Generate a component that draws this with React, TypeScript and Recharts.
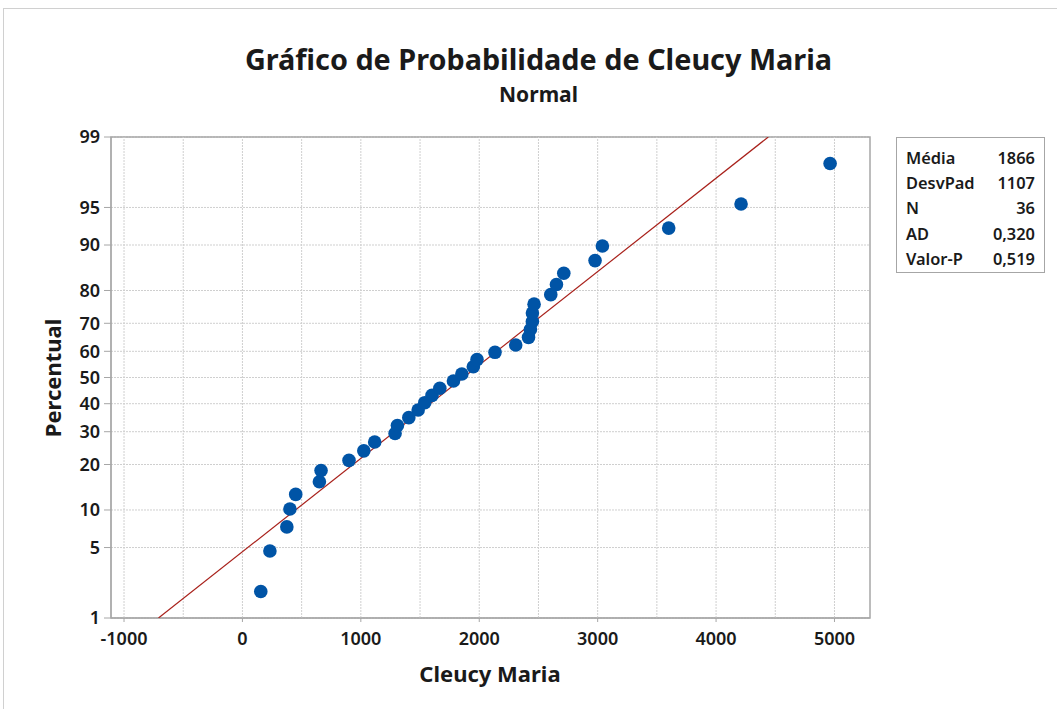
import React from "react";
import {
  CartesianGrid,
  ReferenceArea,
  ReferenceLine,
  Scatter,
  ScatterChart,
  XAxis,
  YAxis,
} from "recharts";

// sample values (Cleucy Maria), sorted
const values = [
  155, 232, 375, 401, 450, 650, 664, 900, 1025, 1117, 1289, 1309, 1405, 1484,
  1540, 1601, 1667, 1782, 1853, 1950, 1981, 2133, 2308, 2416, 2432, 2449, 2449,
  2463, 2604, 2652, 2714, 2978, 3040, 3600, 4211, 4963,
];

// percent position of each point
const percents = [
  1.92, 4.67, 7.42, 10.16, 12.91, 15.66, 18.41, 21.15, 23.9, 26.65, 29.4, 32.14,
  34.89, 37.64, 40.38, 43.13, 45.88, 48.63, 51.37, 54.12, 56.87, 59.62, 62.36,
  65.11, 67.86, 70.6, 73.35, 76.1, 78.85, 81.59, 84.34, 87.09, 89.84, 92.58,
  95.33, 98.08,
];

// fitted normal line endpoints (x, percent)
const fitX = [-709, 4441];
const fitPct = [1, 99];

const xTicks = [-1000, 0, 1000, 2000, 3000, 4000, 5000];
const xGrid = [-500, 500, 1500, 2500, 3500, 4500];
const pctTicks = [1, 5, 10, 20, 30, 40, 50, 60, 70, 80, 90, 95, 99];

const statLabels = ["Média", "DesvPad", "N", "AD", "Valor-P"];
const statValues = ["1866", "1107", "36", "0,320", "0,519"];

// inverse normal CDF (Acklam) – used as the probability scale
function probit(p: number): number {
  const a = [-39.69683028665376, 220.9460984245205, -275.9285104469687, 138.357751867269, -30.66479806614716, 2.506628277459239];
  const b = [-54.47609879822406, 161.5858368580409, -155.6989798598866, 66.80131188771972, -13.28068155288572];
  const c = [-0.007784894002430293, -0.3223964580411365, -2.400758277161838, -2.549732539343734, 4.374664141464968, 2.938163982698783];
  const d = [0.007784695709041462, 0.3224671290700398, 2.445134137142996, 3.754408661907416];
  const pl = 0.02425;
  if (p < pl) {
    const q = Math.sqrt(-2 * Math.log(p));
    return (((((c[0] * q + c[1]) * q + c[2]) * q + c[3]) * q + c[4]) * q + c[5]) /
      ((((d[0] * q + d[1]) * q + d[2]) * q + d[3]) * q + 1);
  }
  if (p > 1 - pl) {
    const q = Math.sqrt(-2 * Math.log(1 - p));
    return -(((((c[0] * q + c[1]) * q + c[2]) * q + c[3]) * q + c[4]) * q + c[5]) /
      ((((d[0] * q + d[1]) * q + d[2]) * q + d[3]) * q + 1);
  }
  const q = p - 0.5;
  const r = q * q;
  return ((((((a[0] * r + a[1]) * r + a[2]) * r + a[3]) * r + a[4]) * r + a[5]) * q) /
    (((((b[0] * r + b[1]) * r + b[2]) * r + b[3]) * r + b[4]) * r + 1);
}

const z = (pct: number) => probit(pct / 100);

const points = values.map((v, i) => ({ x: v, y: z(percents[i]) }));
const fitLine = fitX.map((v, i) => ({ x: v, y: z(fitPct[i]) }));
const yTicks = pctTicks.map(z);
const yMin = z(1);
const yMax = z(99);
const xMin = -1110;
const xMax = 5300;

const FONT = "'Noto Sans', 'Open Sans', sans-serif";

const pctLabel = (v: number) =>
  String(pctTicks[yTicks.findIndex((t) => Math.abs(t - v) < 1e-6)] ?? "");

const Dot = (props: any) => (
  <circle cx={props.cx} cy={props.cy} r={6.8} fill="#0054a6" />
);

export default function App() {
  return (
    <div style={{ position: "absolute", left: 0, top: 0, width: 1057, height: 709, background: "#fff", fontFamily: FONT }}>
      <div style={{ position: "absolute", left: 3, top: 8, width: 1060, height: 700, border: "1px solid #d0d0d0" }} />
      <div style={{ position: "absolute", left: 0, width: 1077, top: 39, textAlign: "center", fontSize: 28.8, fontWeight: 700, color: "#1a1a1a" }}>
        Gráfico de Probabilidade de Cleucy Maria
      </div>
      <div style={{ position: "absolute", left: 0, width: 1077, top: 80, textAlign: "center", fontSize: 21, fontWeight: 700, color: "#1a1a1a" }}>
        Normal
      </div>
      <div
        style={{
          position: "absolute",
          left: 52,
          top: 378,
          transform: "translate(-50%, -50%) rotate(-90deg)",
          fontSize: 22,
          fontWeight: 700,
          color: "#1a1a1a",
          whiteSpace: "nowrap",
        }}
      >
        Percentual
      </div>
      <div style={{ position: "absolute", left: 490, top: 673, transform: "translate(-50%, -50%)", fontSize: 22, fontWeight: 700, color: "#1a1a1a", whiteSpace: "nowrap" }}>
        Cleucy Maria
      </div>
      <div style={{ position: "absolute", left: 0, top: 0 }}>
        <ScatterChart width={1057} height={709} margin={{ top: 137, right: 187, bottom: 61, left: 61 }}>
          <CartesianGrid stroke="#cfcfcf" strokeDasharray="2 1" vertical={false} />
          {xTicks.concat(xGrid).map((v) => (
            <ReferenceLine key={v} x={v} stroke="#cfcfcf" strokeDasharray="2 1" />
          ))}
          <ReferenceArea x1={xMin} x2={xMax} y1={yMin} y2={yMax} fill="none" stroke="#a6a6a6" strokeWidth={1.5} />
          <XAxis
            type="number"
            dataKey="x"
            domain={[xMin, xMax]}
            ticks={xTicks}
            allowDataOverflow
            height={30}
            stroke="#a6a6a6"
            tickSize={4}
            tickMargin={10}
            fontSize={18}
            fontWeight={600}
            fontFamily={FONT}
            tick={{ fill: "#1a1a1a", fontSize: 18 }}
          />
          <YAxis
            type="number"
            dataKey="y"
            domain={[yMin, yMax]}
            ticks={yTicks}
            allowDataOverflow
            width={50}
            stroke="#a6a6a6"
            tickSize={7}
            tickMargin={4}
            fontSize={18}
            fontWeight={600}
            fontFamily={FONT}
            tick={{ fill: "#1a1a1a", fontSize: 18 }}
            tickFormatter={pctLabel}
          />
          <Scatter data={fitLine} line={{ stroke: "#a8201a", strokeWidth: 1.2 }} shape={() => null} isAnimationActive={false} />
          <Scatter data={points} shape={Dot} isAnimationActive={false} />
        </ScatterChart>
      </div>
      <div
        style={{
          position: "absolute",
          left: 896,
          top: 137,
          width: 149,
          height: 136,
          border: "1px solid #a6a6a6",
          boxSizing: "border-box",
          padding: "7px 9px 0 9px",
          fontSize: 16.4,
          fontWeight: 600,
          color: "#1a1a1a",
        }}
      >
        {statLabels.map((l, i) => (
          <div key={l} style={{ display: "flex", justifyContent: "space-between", height: 25.2, lineHeight: "25px" }}>
            <span>{l}</span>
            <span>{statValues[i]}</span>
          </div>
        ))}
      </div>
    </div>
  );
}
